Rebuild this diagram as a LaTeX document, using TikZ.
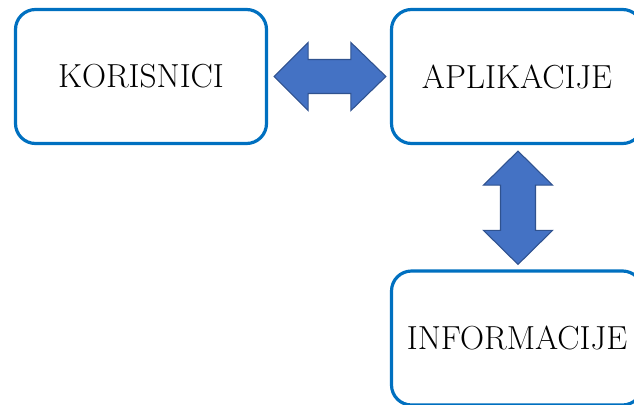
\documentclass[tikz,border=0pt]{standalone}
\usepackage{fontspec}
\usepackage{tikz}
\usetikzlibrary{positioning,calc}
\definecolor{boxBlue}{HTML}{0070C0}
\definecolor{arrowFill}{HTML}{4472C4}
\definecolor{arrowEdge}{HTML}{2F528F}

\begin{document}
\begin{tikzpicture}[
  x=0.75pt,y=-0.75pt,
  every node/.style={font=\fontsize{25}{30}\selectfont},
  box/.style={draw=boxBlue,line width=2.4pt,rounded corners=15pt,fill=white,minimum width=188.25pt,minimum height=100.5pt,align=center},
  bigarrow/.style={fill=arrowFill,draw=arrowEdge,line width=0.8pt,line join=miter},
]
\useasboundingbox (0,0) rectangle (634,404);
\clip (0,0) rectangle (634,404);

% boxes
\node[box] (KOR) at (141,76.5)    {KORISNICI};
\node[box] (APL) at (517,76.5)    {APLIKACIJE};
\node[box] (INF) at (517,338)     {INFORMACIJE};

% KORISNICI <-> APLIKACIJE
\coordinate (h1) at ($(KOR.east)+(6,0)$);
\coordinate (h2) at ($(APL.west)+(-4,0)$);
\draw[bigarrow] (h1) -- ($(h1)+(34,-34)$) -- ($(h1)+(34,-17)$) -- ($(h2)+(-35,-17)$)
  -- ($(h2)+(-35,-34)$) -- (h2) -- ($(h2)+(-35,34)$) -- ($(h2)+(-35,17)$)
  -- ($(h1)+(34,17)$) -- ($(h1)+(34,34)$) -- cycle;

% APLIKACIJE <-> INFORMACIJE
\coordinate (v1) at ($(APL.south)+(1,6)$);
\coordinate (v2) at ($(INF.north)+(1,-5)$);
\draw[bigarrow] (v1) -- ($(v1)+(34.5,34)$) -- ($(v1)+(17.5,34)$) -- ($(v2)+(17.5,-34)$)
  -- ($(v2)+(34.5,-34)$) -- (v2) -- ($(v2)+(-34.5,-34)$) -- ($(v2)+(-17.5,-34)$)
  -- ($(v1)+(-17.5,34)$) -- ($(v1)+(-34.5,34)$) -- cycle;
\end{tikzpicture}
\end{document}
